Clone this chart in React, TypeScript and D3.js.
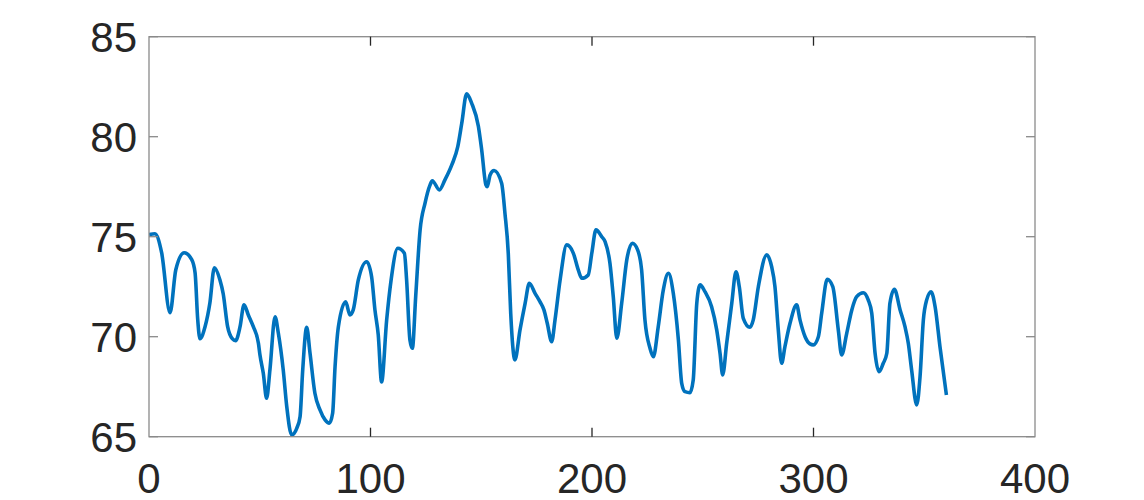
import React from "react";
import * as d3 from "d3";

const xValues: number[] = [
  0, 2.7, 5.7, 9.5, 12.1, 15.9, 19.3, 20.8, 22.0, 23.0, 25.3, 27.5, 29.5, 32.0, 33.5, 35.5, 37.6, 39.1,
  41.1, 42.9, 44.8, 47.1, 49.4, 50.1, 51.6, 53.1, 54.6, 56.9, 58.4, 60.6, 62.2, 64.4, 66.7, 68.2, 69.4,
  71.2, 72.7, 74.9, 77.2, 79.5, 81.4, 82.9, 84.0, 85.5, 88.8, 90.7, 92.2, 94.5, 98.3, 100.5, 102.0,
  103.5, 105.0, 107.3, 109.3, 112.3, 115.3, 116.3, 117.8, 118.9, 120.4, 122.4, 124.6, 126.9, 127.9,
  131.1, 133.6, 136.7, 139.4, 141.2, 143.4, 145.7, 148.7, 150.2, 152.1, 152.7, 154.0, 155.8, 159.2,
  160.7, 162.2, 163.3, 165.2, 167.5, 169.8, 171.7, 174.3, 176.5, 178.3, 179.8, 181.8, 183.3, 185.6,
  188.6, 191.6, 193.8, 195.4, 198.3, 199.9, 201.8, 204.4, 205.9, 208.1, 209.6, 211.2, 213.4, 215.7,
  218.2, 220.6, 222.4, 223.9, 226.2, 227.7, 229.9, 232.2, 234.5, 236.7, 239.0, 240.5, 242.0, 244.2,
  245.7, 247.3, 248.8, 251.0, 254.0, 256.3, 257.8, 259.0, 260.8, 263.1, 265.0, 266.5, 268.3, 271.3,
  272.8, 275.1, 278.9, 281.1, 282.6, 284.1, 285.6, 287.1, 289.4, 292.4, 293.9, 296.2, 298.4, 299.9,
  302.2, 303.7, 306.2, 308.7, 311.2, 312.7, 315.0, 317.3, 319.5, 322.5, 324.7, 326.3, 327.8, 329.6,
  331.5, 333.1, 334.5, 336.5, 339.1, 341.3, 342.8, 344.3, 346.6, 348.1, 349.6, 351.1, 353.1, 354.9,
  357.1, 360.0,
];

const yValues: number[] = [
  75.1, 75.15, 74.2, 71.2, 73.35, 74.2, 73.85, 73.2, 70.85, 69.9, 70.5, 71.7, 73.45, 72.85, 72.15, 70.5,
  69.9, 69.8, 70.5, 71.6, 71.1, 70.5, 69.67, 69.08, 68.17, 66.92, 68.35, 71.0, 70.17, 68.34, 66.5, 65.09,
  65.42, 66.0, 68.34, 70.47, 69.17, 67.17, 66.34, 65.84, 65.67, 66.17, 68.5, 70.5, 71.75, 71.09, 71.34,
  72.84, 73.75, 73.0, 71.34, 70.09, 67.74, 70.84, 72.84, 74.42, 74.17, 72.84, 69.84, 69.42, 72.0, 75.34,
  76.67, 77.59, 77.8, 77.34, 77.84, 78.59, 79.5, 80.67, 82.14, 81.67, 80.52, 79.34, 77.59, 77.5, 78.09,
  78.31, 77.67, 76.17, 74.17, 71.17, 68.84, 70.34, 71.67, 72.67, 72.17, 71.75, 71.34, 70.67, 69.75, 70.84,
  72.84, 74.59, 74.17, 73.34, 72.92, 73.09, 74.17, 75.34, 75.0, 74.75, 73.67, 72.0, 69.92, 71.67, 73.84,
  74.67, 74.34, 73.34, 70.84, 69.42, 69.0, 70.5, 72.34, 73.17, 72.17, 69.84, 67.67, 67.25, 67.2, 67.84,
  71.67, 72.59, 72.25, 71.5, 70.34, 69.17, 68.09, 69.67, 71.67, 73.25, 72.5, 70.92, 70.47, 70.84, 72.5,
  74.09, 73.5, 72.5, 70.34, 68.67, 69.5, 70.67, 71.59, 70.84, 70.0, 69.64, 69.59, 70.0, 71.17, 72.87,
  72.5, 70.34, 69.09, 70.17, 71.34, 72.0, 72.2, 71.84, 71.17, 69.17, 68.25, 68.67, 69.17, 71.67, 72.37,
  71.34, 70.5, 69.67, 68.34, 66.59, 68.0, 70.84, 71.84, 72.25, 71.5, 69.5, 67.09,
];

const xTicks: number[] = [0, 100, 200, 300, 400];
const yTicks: number[] = [65, 70, 75, 80, 85];

export default function App() {
  const W = 1144;
  const H = 500;
  const left = 149;
  const right = 1035;
  const top = 36.7;
  const bottom = 436.7;

  const x = d3.scaleLinear().domain([0, 400]).range([left, right]);
  const y = d3.scaleLinear().domain([65, 85]).range([bottom, top]);

  const pts: [number, number][] = xValues.map((v, i) => [v, yValues[i]]);
  const line = d3
    .line<[number, number]>()
    .x((d) => x(d[0]))
    .y((d) => y(d[1]))
    .curve(d3.curveMonotoneX);

  const boxColor = "#8a8a8a";
  const textColor = "#262626";
  const font = "'Liberation Sans', Arial, Helvetica, sans-serif";
  const tickLen = 9;

  return (
    <svg
      width={W}
      height={H}
      style={{ position: "absolute", left: 0, top: 0, background: "#fff" }}
    >
      <rect x={0} y={0} width={W} height={H} fill="#fff" />
      <defs>
        <clipPath id="plotclip">
          <rect x={left} y={top - 3} width={right - left} height={bottom - top + 6} />
        </clipPath>
      </defs>
      <path
        d={line(pts) || ""}
        fill="none"
        stroke="#0072BD"
        strokeWidth={3.6}
        strokeLinejoin="round"
        strokeLinecap="butt"
        clipPath="url(#plotclip)"
      />
      {/* box */}
      <rect
        x={left}
        y={top}
        width={right - left}
        height={bottom - top}
        fill="none"
        stroke={boxColor}
        strokeWidth={1.3}
      />
      {/* y ticks */}
      {yTicks.map((t) => (
        <g key={"y" + t}>
          <line x1={left} x2={left + tickLen} y1={y(t)} y2={y(t)} stroke={boxColor} strokeWidth={1.3} />
          <line x1={right} x2={right - tickLen} y1={y(t)} y2={y(t)} stroke={boxColor} strokeWidth={1.3} />
          <text
            x={left - 12}
            y={y(t) + 15.5}
            textAnchor="end"
            fontFamily={font}
            fontSize={42}
            fill={textColor}
          >
            {t}
          </text>
        </g>
      ))}
      {/* x ticks */}
      {xTicks.map((t) => (
        <g key={"x" + t}>
          {t > 0 && t < 400 && (
            <>
              <line x1={x(t)} x2={x(t)} y1={bottom} y2={bottom - tickLen} stroke={textColor} strokeWidth={1.3} />
              <line x1={x(t)} x2={x(t)} y1={top} y2={top + tickLen} stroke={textColor} strokeWidth={1.3} />
            </>
          )}
          <text
            x={x(t)}
            y={bottom + 56.5}
            textAnchor="middle"
            fontFamily={font}
            fontSize={42}
            fill={textColor}
          >
            {t}
          </text>
        </g>
      ))}
    </svg>
  );
}
